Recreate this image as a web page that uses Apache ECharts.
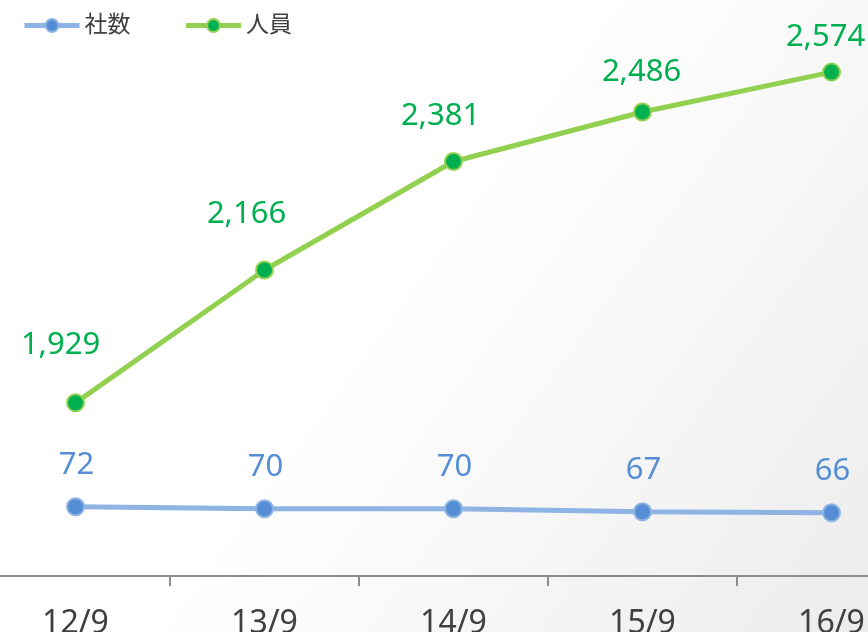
<!DOCTYPE html>
<html>
<head>
<meta charset="utf-8">
<script src="https://cdn.jsdelivr.net/npm/echarts@6/dist/echarts.min.js"></script>
<style>
html,body{margin:0;padding:0;background:#fff;}
#chart{width:868px;height:632px;}
</style>
</head>
<body>
<div id="chart"></div>
<script>
const categories = ['12/9', '13/9', '14/9', '15/9', '16/9'];
const companyCounts = [72, 70, 70, 67, 66];
const staffCounts = [1929, 2166, 2381, 2486, 2574];
const seriesNames = ['社数', '人員'];

// label placement (styling only)
const staffLabelOffsets = [[-15, -58], [-18, -56], [-13, -45], [-1, -39.5], [-6, -35]];
const companyLabelOffset = [1, -42];

const fmt = v => Number(v).toLocaleString('en-US');
const font = '"Noto Sans", "Noto Sans CJK JP", sans-serif';

const catIndex = categories.map((c, i) => i);
const tickPositions = categories.slice(1).map((c, i) => i + 0.5);

const chart = echarts.init(document.getElementById('chart'), null, {renderer: 'canvas'});

chart.setOption({
  animation: false,
  backgroundColor: {
    type: 'linear', x: 0, y: 0, x2: 1, y2: 1,
    colorStops: [
      {offset: 0, color: '#ffffff'},
      {offset: 0.45, color: '#ffffff'},
      {offset: 1, color: '#ececec'}
    ]
  },
  legend: {
    left: 17, top: 9,
    itemWidth: 55, itemHeight: 16, itemGap: 53,
    textStyle: {fontSize: 23, color: '#404040', fontFamily: font},
    data: [
      {name: seriesNames[0], lineStyle: {width: 5}},
      {name: seriesNames[1], lineStyle: {width: 5}}
    ]
  },
  grid: {left: 0, right: 0, top: 0, bottom: 56, containLabel: false, outerBoundsMode: 'none'},
  xAxis: {
    type: 'value',
    min: -0.3995,
    max: 4.1931,
    splitLine: {show: false},
    axisLine: {show: true, lineStyle: {color: '#8c8c8c', width: 2}},
    axisTick: {show: true, length: 10, customValues: tickPositions,
      lineStyle: {color: '#8c8c8c', width: 2}},
    axisLabel: {show: true, customValues: catIndex,
      formatter: v => categories[Math.round(v)],
      fontSize: 32, color: '#404040', fontFamily: font, margin: 32}
  },
  yAxis: [
    {type: 'value', min: 2.7, max: 578.7, show: false, splitLine: {show: false}},
    {type: 'log', logBase: 10, min: 1658.6, max: 2741.1, show: false, splitLine: {show: false}}
  ],
  series: [
    {
      name: seriesNames[0],
      type: 'line',
      yAxisIndex: 0,
      data: companyCounts.map((v, i) => [catIndex[i], v]),
      symbol: 'circle',
      symbolSize: 17,
      itemStyle: {color: '#558ed5', borderColor: '#8db4e2', borderWidth: 2},
      lineStyle: {color: '#8db4e2', width: 5},
      label: {
        show: true, position: 'inside', offset: companyLabelOffset,
        align: 'center', verticalAlign: 'middle',
        fontSize: 31, color: '#558ed5', fontFamily: font,
        formatter: p => fmt(p.value[1])
      },
      z: 3
    },
    {
      name: seriesNames[1],
      type: 'line',
      yAxisIndex: 1,
      data: staffCounts.map((v, i) => ({
        value: [catIndex[i], v],
        label: {offset: staffLabelOffsets[i]}
      })),
      symbol: 'circle',
      symbolSize: 17,
      itemStyle: {color: '#00b050', borderColor: '#92d050', borderWidth: 2},
      lineStyle: {color: '#92d050', width: 5},
      label: {
        show: true, position: 'inside',
        align: 'center', verticalAlign: 'middle',
        fontSize: 31, color: '#00b050', fontFamily: font,
        formatter: p => fmt(p.value[1])
      },
      z: 4
    }
  ]
});
</script>
</body>
</html>
